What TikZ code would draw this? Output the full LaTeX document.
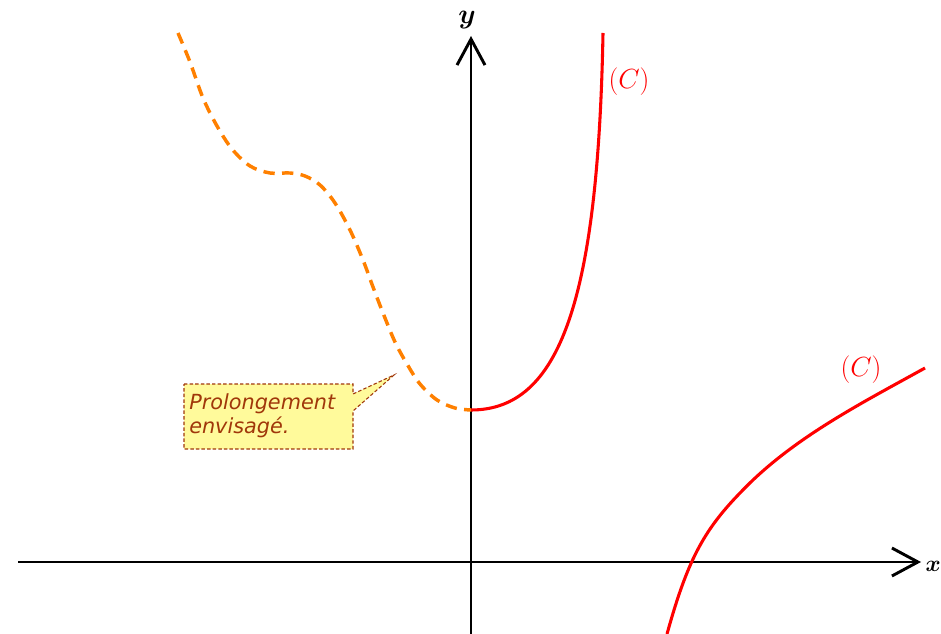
\documentclass[tikz,border=0pt]{standalone}
\usepackage{fontspec}
\newfontfamily\notefont{DejaVu Sans}
\usetikzlibrary{arrows.meta}
\definecolor{noteyellow}{RGB}{255,250,155}
\definecolor{notebrown}{RGB}{160,55,10}
\definecolor{curveorange}{RGB}{255,128,0}
\tikzset{
  axisline/.style={line width=2.2pt,-{Straight Barb[length=19.5pt,width=21pt,line width=2.2pt]}},
  curvered/.style={red,line width=2.3pt},
  curveext/.style={curveorange,line width=2.6pt,dash pattern=on 8.5pt off 5.5pt},
  notebox/.style={fill=noteyellow,draw=notebrown,line width=0.8pt,dash pattern=on 2.6pt off 1.6pt},
  notetext/.style={inner sep=0pt,align=left,text=notebrown,font=\notefont\itshape\fontsize{15.6}{18}\selectfont},
  curvelabel/.style={text=red,inner sep=0pt,font=\fontsize{21}{25}\selectfont},
  axislabel/.style={inner sep=0pt,font=\fontsize{21}{25}\selectfont\boldmath}
}
\begin{document}
\begin{tikzpicture}[x=0.75pt,y=-0.75pt]
\useasboundingbox (0,0) rectangle (941,634);
% axes
\coordinate (xstart) at (18,562);
\coordinate (xend) at (921,562);
\coordinate (ystart) at (471,634);
\coordinate (yend) at (471,36);
\draw[axisline] (xstart) -- (xend);
\draw[axisline] (ystart) -- (yend);
\node[axislabel,anchor=east,font=\fontsize{18}{22}\selectfont\boldmath] (xlab) at (941,566) {$x$};
\node[axislabel] (ylab) at (467,20) {$y$};
% extension (dashed)
\draw[curveext] plot[smooth,tension=0.55] coordinates {
 (178,33) (190,62) (203,98) (217,126) (232,149) (250,166) (270,173)
 (290,173) (305,176) (320,185) (335,203) (350,230) (363,260) (373,287)
 (383,313) (395,342) (407,364) (420,384) (437,400) (455,408) (471,410)};
% branch 1
\coordinate (b1s) at (471,410);
\coordinate (b1e) at (603,33);
\draw[curvered] (b1s) .. controls (560,410) and (598,300) .. (b1e);
% branch 2
\coordinate (b2s) at (667,634);
\coordinate (b2m) at (740,493);
\coordinate (b2e) at (925,368);
\draw[curvered] (b2s) .. controls (687,562) and (703,531) .. (b2m)
  .. controls (791,439) and (860,404) .. (b2e);
\node[curvelabel] (c1) at (629,82) {$(C)$};
\node[curvelabel] (c2) at (861,370) {$(C)$};
% callout
\coordinate (tip) at (394,375);
\draw[notebox] (184,384) -- (353,384) -- (353,394) -- (tip) -- (353,411)
  -- (353,449) -- (184,449) -- cycle;
\node[notetext,anchor=north west] (note) at (189,393) {Prolongement\\envisagé.};
\end{tikzpicture}
\end{document}
